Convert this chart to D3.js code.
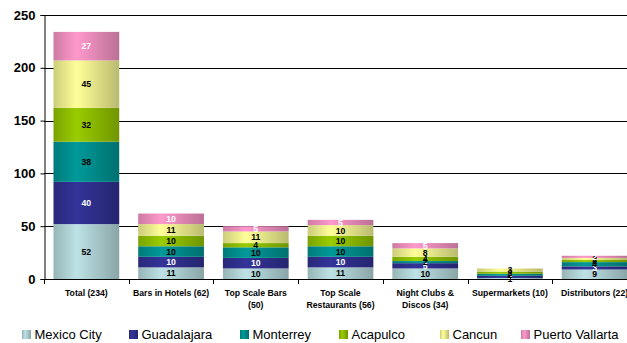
<!DOCTYPE html>
<html>
<head>
<meta charset="utf-8">
<script src="https://cdn.jsdelivr.net/npm/d3@7"></script>
<style>
  html, body { margin: 0; padding: 0; background: #fff; }
  svg { display: block; }
  svg text { font-family: Arial, "Liberation Sans", Helvetica, sans-serif; }
</style>
</head>
<body>
<svg id="chart" width="627" height="343"></svg>
<script>
// Outlet categories (x axis), with wrapped label lines
const categories = ["Total (234)", "Bars in Hotels (62)", "Top Scale Bars (50)", "Top Scale Restaurants (56)", "Night Clubs & Discos (34)", "Supermarkets (10)", "Distributors (22)"];
const categoryLines = [["Total (234)"], ["Bars in Hotels (62)"], ["Top Scale Bars", "(50)"], ["Top Scale", "Restaurants (56)"], ["Night Clubs &", "Discos (34)"], ["Supermarkets (10)"], ["Distributors (22)"]];

// Cities (stack order, bottom to top)
const cities = ["Mexico City", "Guadalajara", "Monterrey", "Acapulco", "Cancun", "Puerto Vallarta"];
const mexicoCity     = [52, 11, 10, 11, 10, 1, 9];
const guadalajara    = [40, 10, 10, 10, 5, 2, 3];
const monterrey      = [38, 10, 10, 10, 2, 2, 4];
const acapulco       = [32, 10, 4, 10, 4, 2, 2];
const cancun         = [45, 11, 11, 10, 8, 3, 2];
const puertoVallarta = [27, 10, 5, 5, 5, 0, 2];
const seriesValues = [mexicoCity, guadalajara, monterrey, acapulco, cancun, puertoVallarta];

const yTicks = [0, 50, 100, 150, 200, 250];

const colors = ["#bde2e5", "#333399", "#009999", "#99cc00", "#ffff99", "#ff99cc"];
const labelColors = ["#000", "#fff", "#000", "#000", "#000", "#fff"];
const FONT = "Arial, 'Liberation Sans', Helvetica, sans-serif";

const svg = d3.select("#chart");

// Horizontal shading for each series
const defs = svg.append("defs");
colors.forEach((c, i) => {
  const g = defs.append("linearGradient").attr("id", "grad" + i)
    .attr("x1", "0%").attr("x2", "100%").attr("y1", "0%").attr("y2", "0%");
  const base = d3.rgb(c);
  const shade = k => d3.rgb(base.r * k, base.g * k, base.b * k).formatHex();
  g.append("stop").attr("offset", "0%").attr("stop-color", shade(0.8));
  g.append("stop").attr("offset", "35%").attr("stop-color", shade(1.0));
  g.append("stop").attr("offset", "100%").attr("stop-color", shade(0.73));
});

const x = d3.scaleBand().domain(categories).range([44, 637])
  .paddingInner(0.224).paddingOuter(0.112);
const y = d3.scaleLinear().domain([0, 250]).range([279, 15]);

// Gridlines
svg.append("g").selectAll("line").data(yTicks.filter(t => t > 0)).join("line")
  .attr("x1", 44).attr("x2", 627)
  .attr("y1", d => Math.round(y(d)) + 0.5).attr("y2", d => Math.round(y(d)) + 0.5)
  .attr("stroke", "#000").attr("stroke-width", 1);

// Stacked data
const table = categories.map((c, i) => {
  const row = { category: c };
  cities.forEach((city, j) => { row[city] = seriesValues[j][i]; });
  return row;
});
const stacked = d3.stack().keys(cities)(table);

const layers = svg.append("g").selectAll("g").data(stacked).join("g")
  .attr("fill", (d, i) => `url(#grad${i})`);
layers.selectAll("rect").data(d => d).join("rect")
  .attr("x", d => x(d.data.category))
  .attr("width", x.bandwidth())
  .attr("y", d => y(d[1]))
  .attr("height", d => y(d[0]) - y(d[1]));

// Segment value labels
stacked.forEach((layer, i) => {
  svg.append("g").selectAll("text").data(layer.filter(d => d[1] - d[0] > 0)).join("text")
    .attr("x", d => x(d.data.category) + x.bandwidth() / 2)
    .attr("y", d => (y(d[0]) + y(d[1])) / 2)
    .attr("dy", "0.36em")
    .attr("text-anchor", "middle")
    .attr("font-family", FONT)
    .attr("font-size", "8.7px").attr("font-weight", "bold")
    .attr("fill", labelColors[i])
    .text(d => d[1] - d[0]);
});

// Y axis
const yAxis = svg.append("g").attr("transform", "translate(44.5,0)")
  .call(d3.axisLeft(y).tickValues(yTicks).tickSize(4).tickPadding(5));
yAxis.attr("font-family", FONT);
yAxis.select(".domain").attr("stroke", "#000");
yAxis.selectAll("line").attr("stroke", "#000");
yAxis.selectAll("text").attr("font-size", "13px").attr("font-weight", "bold")
  .attr("fill", "#000").attr("font-family", FONT);

// X axis baseline and tick marks at category boundaries
svg.append("line").attr("x1", 44).attr("x2", 627)
  .attr("y1", 279.5).attr("y2", 279.5).attr("stroke", "#000");
const step = x.step();
svg.append("g").selectAll("line").data(d3.range(categories.length + 1)).join("line")
  .attr("x1", i => Math.round(44 + i * step) + 0.5).attr("x2", i => Math.round(44 + i * step) + 0.5)
  .attr("y1", 279).attr("y2", 284).attr("stroke", "#000");

// Category labels
const xl = svg.append("g").selectAll("text").data(categories).join("text")
  .attr("x", d => x(d) + x.bandwidth() / 2)
  .attr("y", 296)
  .attr("text-anchor", "middle")
  .attr("font-family", FONT)
  .attr("font-size", "8.7px").attr("font-weight", "bold").attr("fill", "#000");
xl.each(function (d, i) {
  d3.select(this).selectAll("tspan").data(categoryLines[i]).join("tspan")
    .attr("x", x(d) + x.bandwidth() / 2)
    .attr("dy", (t, k) => k === 0 ? 0 : 11.5)
    .text(t => t);
});

// Legend
const legendX = [22, 129, 240, 339, 440, 521];
const legend = svg.append("g").selectAll("g").data(cities).join("g")
  .attr("transform", (d, i) => `translate(${legendX[i]},0)`);
legend.append("rect").attr("x", 0).attr("y", 330).attr("width", 9).attr("height", 9)
  .attr("fill", (d, i) => `url(#grad${i})`);
legend.append("text").attr("x", 12.5).attr("y", 339)
  .attr("font-family", FONT)
  .attr("font-size", "13px").attr("fill", "#000").text(d => d);
</script>
</body>
</html>
